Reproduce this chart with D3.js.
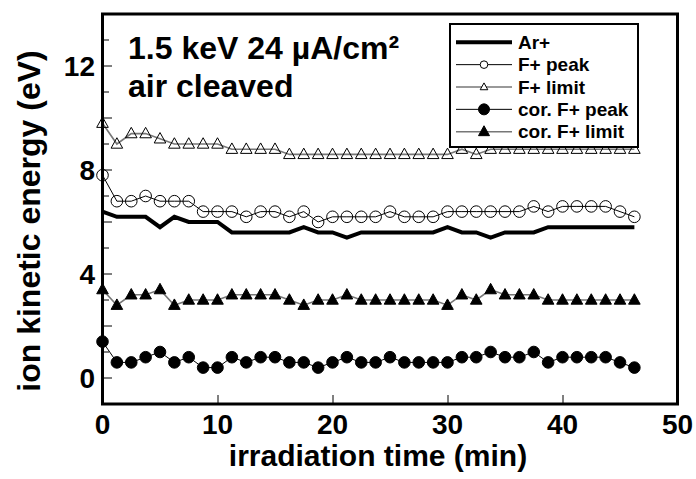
<!DOCTYPE html>
<html>
<head>
<meta charset="utf-8">
<script src="https://cdn.jsdelivr.net/npm/d3@7"></script>
<style>
  html, body { margin: 0; padding: 0; background: #fff; }
  svg text { font-family: "Liberation Sans", Arial, Helvetica, sans-serif; font-weight: bold; fill: #000; }
</style>
</head>
<body>
<svg id="chart" width="696" height="479"></svg>
<script>
// Irradiation time in minutes (one reading every 1.25 min)
const timeStep = 1.25;
const sampleCount = 38;

// Ion kinetic energies (eV)
const arPlus = [6.4, 6.2, 6.2, 6.2, 5.8, 6.2, 6.0, 6.0, 6.0, 5.6,
                5.6, 5.6, 5.6, 5.6, 5.8, 5.6, 5.6, 5.4, 5.6, 5.6,
                5.6, 5.6, 5.6, 5.6, 5.8, 5.6, 5.6, 5.4, 5.6, 5.6,
                5.6, 5.8, 5.8, 5.8, 5.8, 5.8, 5.8, 5.8];
const fPeak = [7.8, 6.8, 6.8, 7.0, 6.8, 6.8, 6.8, 6.4, 6.4, 6.4,
               6.2, 6.4, 6.4, 6.2, 6.4, 6.0, 6.2, 6.2, 6.2, 6.2,
               6.4, 6.2, 6.2, 6.2, 6.4, 6.4, 6.4, 6.4, 6.4, 6.4,
               6.6, 6.4, 6.6, 6.6, 6.6, 6.6, 6.4, 6.2];
const fLimit = [9.8, 9.0, 9.4, 9.4, 9.2, 9.0, 9.0, 9.0, 9.0, 8.8,
                8.8, 8.8, 8.8, 8.6, 8.6, 8.6, 8.6, 8.6, 8.6, 8.6,
                8.6, 8.6, 8.6, 8.6, 8.6, 8.8, 8.6, 8.8, 8.8, 8.8,
                8.8, 8.8, 8.8, 8.8, 8.8, 8.8, 8.8, 8.8];
const corFPeak = [1.4, 0.6, 0.6, 0.8, 1.0, 0.6, 0.8, 0.4, 0.4, 0.8,
                  0.6, 0.8, 0.8, 0.6, 0.6, 0.4, 0.6, 0.8, 0.6, 0.6,
                  0.8, 0.6, 0.6, 0.6, 0.6, 0.8, 0.8, 1.0, 0.8, 0.8,
                  1.0, 0.6, 0.8, 0.8, 0.8, 0.8, 0.6, 0.4];
const corFLimit = [3.4, 2.8, 3.2, 3.2, 3.4, 2.8, 3.0, 3.0, 3.0, 3.2,
                   3.2, 3.2, 3.2, 3.0, 2.8, 3.0, 3.0, 3.2, 3.0, 3.0,
                   3.0, 3.0, 3.0, 3.0, 2.8, 3.2, 3.0, 3.4, 3.2, 3.2,
                   3.2, 3.0, 3.0, 3.0, 3.0, 3.0, 3.0, 3.0];

const xTickValues = [0, 10, 20, 30, 40, 50];
const yTickLabels = [0, 4, 8, 12];
const seriesNames = ["Ar+", "F+ peak", "F+ limit", "cor. F+ peak", "cor. F+ limit"];

const times = d3.range(sampleCount).map(i => i * timeStep);

const svg = d3.select("#chart");
const plotLeft = 102.5, plotRight = 677.5, plotTop = 14, plotBottom = 404;

const x = d3.scaleLinear().domain([0, 50]).range([plotLeft, plotRight]);
const y = d3.scaleLinear().domain([-1, 14]).range([plotBottom, plotTop]);

// series styling
const series = [
  { name: seriesNames[0], values: arPlus,    line: "#000", lw: 4,   marker: null },
  { name: seriesNames[1], values: fPeak,     line: "#000", lw: 1,   marker: "circle",   filled: false },
  { name: seriesNames[2], values: fLimit,    line: "#777", lw: 1.6, marker: "triangle", filled: false },
  { name: seriesNames[3], values: corFPeak,  line: "#000", lw: 1,   marker: "circle",   filled: true },
  { name: seriesNames[4], values: corFLimit, line: "#777", lw: 1.6, marker: "triangle", filled: true }
];

function markerPath(type, size) {
  if (type === "circle") return d3.symbol(d3.symbolCircle, Math.PI * size * size)();
  // triangle centred on the point
  const h = size * 1.8, w = size * 2;
  return `M0,${-h * 0.6}L${w / 2},${h * 0.4}L${-w / 2},${h * 0.4}Z`;
}

// axes: ticks drawn inward
const xAxis = d3.axisBottom(x).tickValues(xTickValues.slice(1, 5)).tickSizeInner(-9).tickSizeOuter(0).tickFormat("");
svg.append("g").attr("transform", `translate(0,${plotBottom})`).call(xAxis)
  .call(g => g.select(".domain").remove())
  .call(g => g.selectAll("line").attr("stroke", "#000").attr("stroke-width", 1));

const yMinor = d3.range(0, 14);
svg.append("g").selectAll("line").data(yMinor).join("line")
  .attr("x1", plotLeft).attr("x2", d => plotLeft + (d % 2 === 0 ? 9.5 : 6.5))
  .attr("y1", d => y(d)).attr("y2", d => y(d))
  .attr("stroke", "#000").attr("stroke-width", 1);

// tick labels
svg.append("g").selectAll("text").data(xTickValues).join("text")
  .attr("x", d => x(d)).attr("y", 434)
  .attr("text-anchor", "middle").attr("font-size", 28)
  .text(d => d);
svg.append("g").selectAll("text").data(yTickLabels).join("text")
  .attr("x", 95).attr("y", d => y(d) + 10)
  .attr("text-anchor", "end").attr("font-size", 28)
  .text(d => d);

// axis titles
svg.append("text").attr("x", 378).attr("y", 466)
  .attr("text-anchor", "middle").attr("font-size", 30).text("irradiation time (min)");
svg.append("text").attr("transform", "translate(40,221) rotate(-90)")
  .attr("text-anchor", "middle").attr("font-size", 32).text("ion kinetic energy (eV)");

// data
const plot = svg.append("g");
series.forEach(s => {
  const pts = s.values.map((v, i) => [x(times[i]), y(v)]);
  plot.append("path").attr("d", d3.line()(pts))
    .attr("fill", "none").attr("stroke", s.line).attr("stroke-width", s.lw)
    .attr("stroke-linejoin", "miter");
  if (s.marker) {
    plot.append("g").selectAll("path").data(pts).join("path")
      .attr("transform", d => `translate(${d[0]},${d[1]})`)
      .attr("d", markerPath(s.marker, 5.8))
      .attr("fill", s.filled ? "#000" : "none")
      .attr("stroke", "#000").attr("stroke-width", 1);
  }
});

// frame
svg.append("rect").attr("x", plotLeft).attr("y", plotTop)
  .attr("width", plotRight - plotLeft).attr("height", plotBottom - plotTop)
  .attr("fill", "none").attr("stroke", "#000").attr("stroke-width", 3);

// annotation
svg.append("text").attr("x", 128).attr("y", 59).attr("font-size", 32).text("1.5 keV 24 µA/cm²");
svg.append("text").attr("x", 128).attr("y", 97).attr("font-size", 32).text("air cleaved");

// legend
const lg = svg.append("g");
lg.append("rect").attr("x", 450).attr("y", 24).attr("width", 188).attr("height", 123)
  .attr("fill", "#fff").attr("stroke", "#000").attr("stroke-width", 2);
series.forEach((s, i) => {
  const ry = 42.3 + i * 22.35;
  lg.append("line").attr("x1", 456).attr("x2", 512).attr("y1", ry).attr("y2", ry)
    .attr("stroke", s.line).attr("stroke-width", s.lw);
  if (s.marker) {
    lg.append("path").attr("transform", `translate(484,${ry})`)
      .attr("d", markerPath(s.marker, s.filled ? 5.5 : 3.8))
      .attr("fill", s.filled ? "#000" : "#fff")
      .attr("stroke", "#000").attr("stroke-width", 1);
  }
  lg.append("text").attr("x", 518).attr("y", ry + 6.5).attr("font-size", 19).text(s.name);
});
</script>
</body>
</html>
